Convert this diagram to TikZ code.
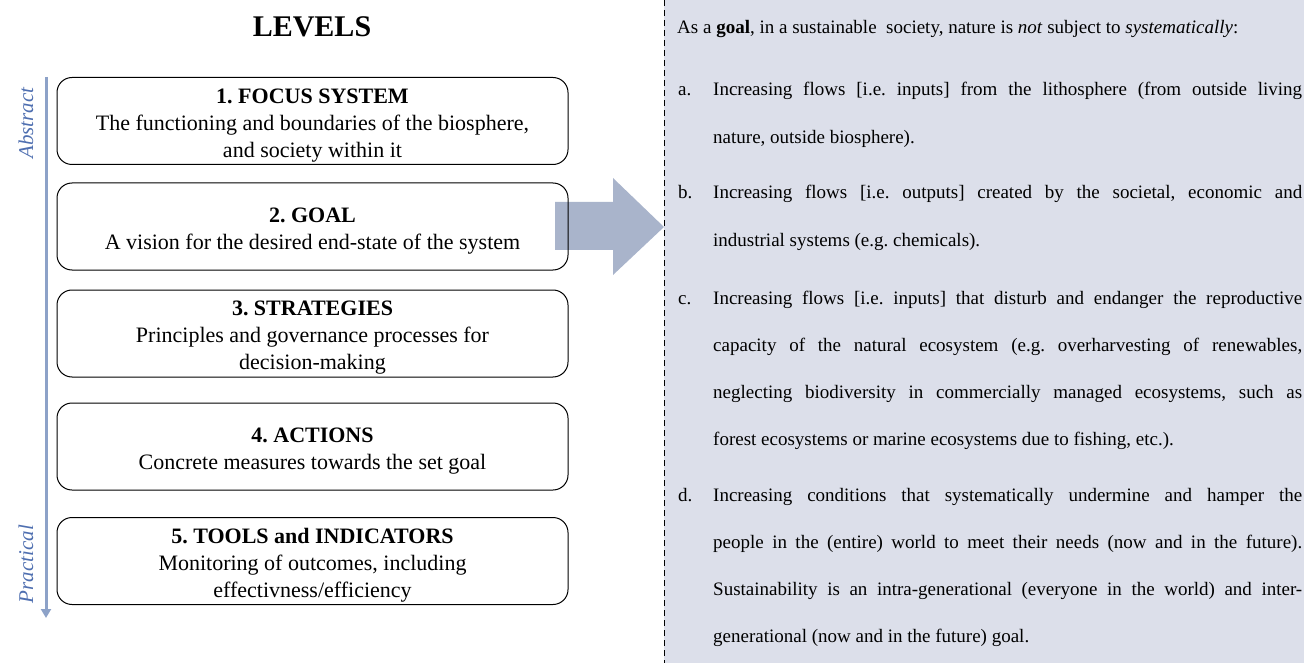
\documentclass[tikz,border=0pt]{standalone}
\usepackage{fontspec}
\setmainfont{Liberation Serif}
\newfontfamily\panelfont{Liberation Serif}
\usetikzlibrary{arrows.meta}
\definecolor{panelbg}{RGB}{220,223,234}
\definecolor{axisblue}{RGB}{141,162,200}
\definecolor{labelblue}{RGB}{79,111,176}
\definecolor{bigarrow}{RGB}{169,180,203}
\newcommand{\lvltitle}[1]{\rule{0pt}{23pt}\textbf{#1}}

\begin{document}
\begin{tikzpicture}[x=1pt,y=-1pt,
    level/.style={draw,rounded corners=15pt,line width=1pt,minimum width=511pt,minimum height=87pt,
        align=center,inner sep=0pt,font=\fontsize{22}{27}\selectfont\frenchspacing},
    side/.style={rotate=90,text=labelblue,font=\fontsize{21}{24}\selectfont\itshape},
    tag/.style={anchor=base west,inner sep=0pt,font=\panelfont\fontsize{19}{47.3}\selectfont\frenchspacing},
    item/.style={tag,text width=589pt,align=justify}]
    \useasboundingbox (0,0) rectangle (1304,663);

    % right panel
    \fill[panelbg] (664,-5) rectangle (1310,670);
    \draw[dash pattern=on 6pt off 4pt,line width=0.8pt] (664,0) -- (664,663);

    % big arrow towards the panel
    \fill[bigarrow] (555,202) -- (613,202) -- (613,178) -- (664,227) -- (613,275) -- (613,250) -- (555,250) -- cycle;

    \node [anchor=base,font=\fontsize{30}{36}\selectfont\bfseries] (levels) at (312,37) {LEVELS};

    \node [level] (focus) at (312.5,121) {\lvltitle{1. FOCUS SYSTEM}\\The functioning and boundaries of the biosphere,\\and society within it};
    \node [level] (goal) at (312.5,226.5) {\lvltitle{2. GOAL}\\A vision for the desired end-state of the system};
    \node [level] (strat) at (312.5,333.5) {\lvltitle{3. STRATEGIES}\\Principles and governance processes for\\decision-making};
    \node [level] (actions) at (312.5,446.5) {\lvltitle{4. ACTIONS}\\Concrete measures towards the set goal};
    \node [level] (tools) at (312.5,561) {\lvltitle{5. TOOLS and INDICATORS}\\Monitoring of outcomes, including\\effectivness/efficiency};

    % abstract -> practical axis
    \coordinate (axtop) at (46,77);
    \coordinate (axbot) at (46,618);
    \draw[-{Triangle[length=9pt,width=10pt]},axisblue,line width=3pt] (axtop) -- (axbot);
    \node [side] (abstract) at (26,123) {Abstract};
    \node [side] (practical) at (26,564) {Practical};

    % panel text
    \node [tag] (intro) at (677,34) {As a \textbf{goal}, in a sustainable\ \ society, nature is \textit{not} subject to \textit{systematically}:};
    \node [tag] (la) at (678,96) {a.};
    \node [item] (ta) at (713,96) {Increasing flows [i.e. inputs] from the lithosphere (from outside living\linebreak nature, outside biosphere).};
    \node [tag] (lb) at (678,199) {b.};
    \node [item] (tb) at (713,199) {Increasing flows [i.e. outputs] created by the societal, economic and\linebreak industrial systems (e.g. chemicals).};
    \node [tag] (lc) at (678,304) {c.};
    \node [item] (tc) at (713,304) {Increasing flows [i.e. inputs] that disturb and endanger the reproductive\linebreak capacity of the natural ecosystem (e.g. overharvesting of renewables,\linebreak neglecting biodiversity in commercially managed ecosystems, such as\linebreak forest ecosystems or marine ecosystems due to fishing, etc.).};
    \node [tag] (ld) at (678,501) {d.};
    \node [item] (td) at (713,501) {Increasing conditions that systematically undermine and hamper the\linebreak people in the (entire) world to meet their needs (now and in the future).\linebreak Sustainability is an intra-generational (everyone in the world) and inter-\linebreak generational (now and in the future) goal.};
\end{tikzpicture}
\end{document}
